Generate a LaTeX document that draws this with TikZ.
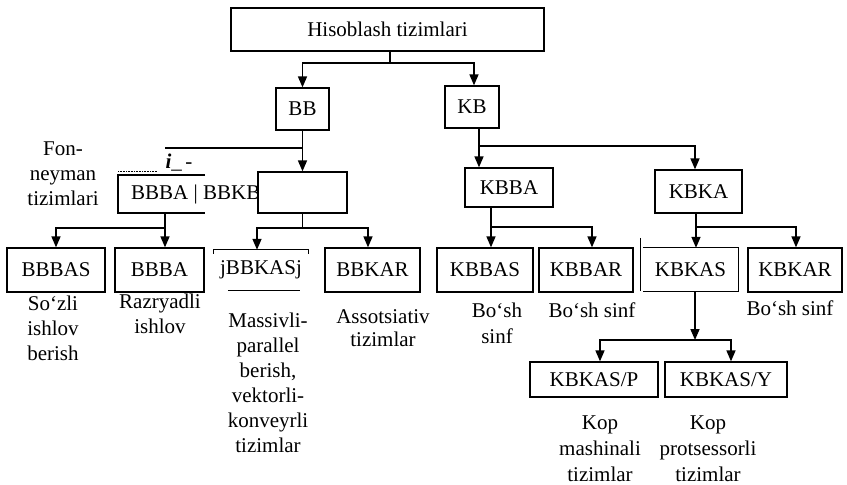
\documentclass[tikz,border=0pt]{standalone}
\usepackage{fontspec}
\setmainfont{Liberation Serif}
\usetikzlibrary{arrows.meta}
\newcommand\dfont{\fontsize{21}{25}\selectfont}
\begin{document}
\begin{tikzpicture}[x=1pt,y=-1pt,
  bx/.style={draw, line width=1.3pt, inner sep=0pt, minimum width=#1, minimum height=44pt, font=\dfont},
  nb/.style={inner sep=0pt, minimum width=#1, minimum height=44pt, font=\dfont},
  bl/.style={line width=1.3pt},
  ln/.style={line width=1.6pt},
  arr/.style={line width=1.6pt, -{Triangle[length=11pt,width=9pt]}},
  lbl/.style={align=center, inner sep=0pt, font=\dfont, anchor=north}]
\path[use as bounding box] (0,0) rectangle (847,485);

% top levels
\node[bx=313pt, minimum height=43pt] (top) at (387.5,29.5) {Hisoblash tizimlari};
\node[bx=53pt, minimum height=42pt] (BB) at (302.5,109) {BB};
\node[bx=54pt, minimum height=42pt] (KB) at (472,107) {KB};

% left (broken) box
\node[inner sep=0pt, font=\dfont, anchor=west] (lbx) at (131,194) {BBBA | BBKB};
\draw[bl] (205,175) -- (118,175) -- (118,213) -- (205,213);
\draw[line width=0.6pt, densely dotted] (118,171) -- (157,171);
\node[inner sep=0pt, font=\dfont] (junk) at (179,163) {\textbf{\textit{i}}\_\,-};
\node[bx=89pt, minimum height=41pt, fill=white] (BK) at (302.5,192.5) {};
\coordinate (lbs) at (165,213);

\node[lbl] (fon) at (63,142) {Fon-\\neyman\\tizimlari};

\node[bx=88pt, minimum height=39pt] (KBBA) at (509,187.5) {KBBA};
\node[bx=87pt, minimum height=43pt] (KBKA) at (698.5,191.5) {KBKA};

% bottom row
\node[bx=98pt] (BBBAS) at (56,270) {BBBAS};
\node[bx=89pt] (BBBA) at (159.5,270) {BBBA};
\node[nb=94pt, minimum height=40pt] (jb) at (261,270) {jBBKASj};
\draw[bl] ([yshift=-4pt]jb.north west) -- (jb.north west) -- (jb.north east) -- ([yshift=-4pt]jb.north east);
\draw[bl] ([xshift=14pt]jb.south west) -- ([xshift=-8pt]jb.south east);
\node[bx=95pt] (BBKAR) at (372.5,270) {BBKAR};
\node[bx=96pt] (KBBAS) at (485,270) {KBBAS};
\node[bx=94pt] (KBBAR) at (586,270) {KBBAR};
\node[nb=95pt, minimum height=43pt] (KBKAS) at (690.5,269.5) {KBKAS};
\draw[bl] (KBKAS.north west) -- (KBKAS.north east) -- (KBKAS.south east) -- (KBKAS.south west);
\draw[bl] ([xshift=-2pt,yshift=10pt]KBKAS.north west) -- ([xshift=-2pt]KBKAS.south west);
\node[bx=94pt] (KBKAR) at (795,270) {KBKAR};

\node[bx=128pt, minimum height=35pt] (KP) at (594,379.5) {KBKAS/P};
\node[bx=122pt, minimum height=35pt] (KY) at (726,379.5) {KBKAS/Y};

% labels
\node[lbl] (l1) at (53,296) {So‘zli\\ishlov\\berish};
\node[lbl] (l2) at (160,294) {Razryadli\\ishlov};
\node[lbl] (l3) at (268,313) {Massivli-\\parallel\\berish,\\vektorli-\\konveyrli\\tizimlar};
\node[lbl, font=\fontsize{21}{23}\selectfont] (l4) at (383,309) {Assotsiativ\\tizimlar};
\node[lbl, font=\fontsize{21}{26}\selectfont] (l5) at (497,303) {Bo‘sh\\sinf};
\node[lbl] (l6) at (592,303) {Bo‘sh sinf};
\node[lbl] (l7) at (790,301) {Bo‘sh sinf};
\node[lbl, font=\fontsize{21}{26}\selectfont] (l8) at (600,416) {Kop\\mashinali\\tizimlar};
\node[lbl, font=\fontsize{21}{26}\selectfont] (l9) at (708,416) {Kop\\protsessorli\\tizimlar};

% connectors
\coordinate (j1) at (390,63);
\draw[ln] (top.south -| j1) -- (j1);
\draw[arr] (j1) -| (BB.north);
\draw[arr] (j1) -| ([xshift=2pt]KB.north);

\draw[arr] (BB.south) -- (BK.north);
\coordinate (h1) at (165,148);
\draw[ln] (h1) -- (h1 -| BB.south);

\coordinate (j2) at (165,228);
\draw[arr] (lbs) -- (lbs |- BBBA.north);
\draw[arr] (j2) -| (BBBAS.north);

\coordinate (j3) at (302.5,228);
\draw[ln] (BK.south) -- (j3);
\draw[arr] (j3) -| ([xshift=-4pt]jb.north);
\draw[arr] (j3) -| ([xshift=-4.5pt]BBKAR.north);

\coordinate (kbs) at ([xshift=7pt]KB.south);
\draw[arr] (kbs) -- (kbs |- KBBA.north);
\coordinate (j4) at (479,146);
\draw[arr] (j4) -| ([xshift=-3.5pt]KBKA.north);

\coordinate (kbas) at ([xshift=-18pt]KBBA.south);
\draw[arr] (kbas) -- (kbas |- KBBAS.north);
\coordinate (j5) at (491,227);
\draw[arr] (j5) -| ([xshift=6pt]KBBAR.north);

\coordinate (kkas) at ([xshift=-2.5pt]KBKA.south);
\draw[arr] (kkas) -- (kkas |- KBKAS.north);
\coordinate (j6) at (696,227);
\draw[arr] (j6) -| ([xshift=1pt]KBKAR.north);

\coordinate (ks) at ([xshift=4.5pt]KBKAS.south);
\coordinate (j7) at (695,340);
\draw[arr] (ks) -- (j7);
\draw[arr] (j7) -| ([xshift=6pt]KP.north);
\draw[arr] (j7) -| ([xshift=5pt]KY.north);
\end{tikzpicture}
\end{document}
